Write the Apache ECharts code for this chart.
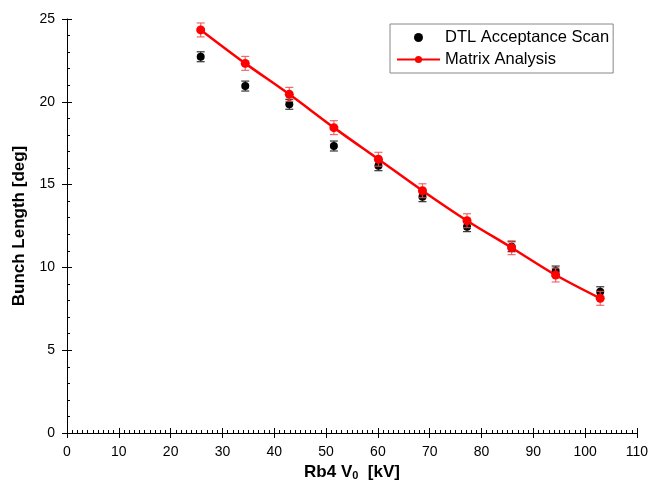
<!DOCTYPE html>
<html>
<head>
<meta charset="utf-8">
<script src="https://cdn.jsdelivr.net/npm/echarts@6/dist/echarts.min.js"></script>
<style>html,body{margin:0;padding:0;background:#fff}#c{width:650px;height:484px}</style>
</head>
<body>
<div id="c"></div>
<script>
const xValues = [25.8, 34.4, 42.9, 51.5, 60.1, 68.6, 77.2, 85.8, 94.3, 102.9];
const dtlValues = [22.72, 20.95, 19.85, 17.33, 16.14, 14.27, 12.46, 11.25, 9.78, 8.53];
const dtlErrors = [0.3, 0.3, 0.3, 0.3, 0.3, 0.3, 0.3, 0.3, 0.3, 0.3];
const matrixValues = [24.34, 22.32, 20.45, 18.44, 16.53, 14.63, 12.82, 11.19, 9.54, 8.13];
const matrixErrors = [0.42, 0.42, 0.42, 0.42, 0.42, 0.42, 0.42, 0.42, 0.42, 0.42];
const xTicks = [0, 10, 20, 30, 40, 50, 60, 70, 80, 90, 100, 110];
const yTicks = [0, 5, 10, 15, 20, 25];

const FONT = '"Liberation Sans", Arial, sans-serif';
const chart = echarts.init(document.getElementById('c'));

function errData(vals, errs) {
  return xValues.map((x, i) => [x, vals[i] - errs[i], vals[i] + errs[i]]);
}
function errRender(color, width) {
  return function (params, api) {
    const x = api.value(0);
    const p1 = api.coord([x, api.value(1)]);
    const p2 = api.coord([x, api.value(2)]);
    const w = 4;
    const st = { stroke: color, lineWidth: width };
    return {
      type: 'group',
      children: [
        { type: 'line', shape: { x1: p1[0], y1: p1[1], x2: p2[0], y2: p2[1] }, style: st },
        { type: 'line', shape: { x1: p1[0] - w, y1: p1[1], x2: p1[0] + w, y2: p1[1] }, style: st },
        { type: 'line', shape: { x1: p2[0] - w, y1: p2[1], x2: p2[0] + w, y2: p2[1] }, style: st }
      ]
    };
  };
}

const axisLabelStyle = { fontFamily: FONT, fontSize: 14, color: '#000' };

const option = {
  animation: false,
  backgroundColor: '#fff',
  grid: { left: 67, right: 13, top: 19, bottom: 51, outerBoundsMode: 'none', containLabel: false },
  legend: {
    orient: 'vertical',
    left: 390,
    top: 24,
    itemWidth: 43,
    itemHeight: 9,
    itemGap: 5,
    padding: [5, 4, 5, 6],
    borderColor: '#888',
    borderWidth: 1,
    textStyle: { fontFamily: FONT, fontSize: 16.5, color: '#000' },
    data: ['DTL Acceptance Scan', 'Matrix Analysis']
  },
  xAxis: [{
    type: 'value', min: 0, max: 110, interval: 10,
    name: '{b|Rb4 V}{s|0}{b|  [kV]}',
    nameLocation: 'middle', nameGap: 23,
    nameTextStyle: {
      rich: {
        b: { fontFamily: FONT, fontSize: 17, fontWeight: 'bold', color: '#000' },
        s: { fontFamily: FONT, fontSize: 11, fontWeight: 'bold', color: '#000', verticalAlign: 'bottom', padding: [8, 0, 0, 0] }
      }
    },
    axisLine: { show: true, onZero: false, lineStyle: { color: '#000', width: 1 } },
    axisTick: { show: true, length: 5, inside: true, lineStyle: { color: '#000' } },
    minorTick: { show: true, splitNumber: 10, length: 3, lineStyle: { color: '#000' } },
    splitLine: { show: false },
    axisLabel: Object.assign({ margin: 12 }, axisLabelStyle)
  }, {
    type: 'value', min: 0, max: 110, interval: 10, position: 'bottom',
    axisLine: { show: false },
    axisTick: { show: true, inside: false, length: 5, lineStyle: { color: '#000' } },
    axisLabel: { show: false }, splitLine: { show: false }
  }],
  yAxis: [{
    type: 'value', min: 0, max: 25, interval: 5,
    name: 'Bunch Length [deg]',
    nameLocation: 'middle', nameGap: 39,
    nameTextStyle: { fontFamily: FONT, fontSize: 17, fontWeight: 'bold', color: '#000' },
    axisLine: { show: true, onZero: false, lineStyle: { color: '#000', width: 1 } },
    axisTick: { show: true, length: 5, inside: true, lineStyle: { color: '#000' } },
    minorTick: { show: true, splitNumber: 5, length: 3, lineStyle: { color: '#000' } },
    splitLine: { show: false },
    axisLabel: Object.assign({ margin: 12 }, axisLabelStyle)
  }, {
    type: 'value', min: 0, max: 25, interval: 5, position: 'left',
    axisLine: { show: false },
    axisTick: { show: true, inside: false, length: 5, lineStyle: { color: '#000' } },
    axisLabel: { show: false }, splitLine: { show: false }
  }],
  series: [
    {
      name: 'DTL Acceptance Scan', type: 'scatter', z: 4,
      symbol: 'circle', symbolSize: 8,
      itemStyle: { color: '#000', opacity: 1 },
      data: xValues.map((x, i) => [x, dtlValues[i]])
    },
    {
      name: 'Matrix Analysis', type: 'line', z: 6,
      smooth: 0.3,
      symbol: 'circle', symbolSize: 9,
      lineStyle: { color: '#ff0000', width: 2.5 },
      itemStyle: { color: '#ff0000', opacity: 1 },
      data: xValues.map((x, i) => [x, matrixValues[i]])
    },
    {
      name: 'dtlErr', type: 'custom', z: 3,
      renderItem: errRender('#333', 1.2),
      data: errData(dtlValues, dtlErrors), tooltip: { show: false }
    },
    {
      name: 'matrixErr', type: 'custom', z: 5,
      renderItem: errRender('rgba(240,80,80,0.85)', 1.2),
      data: errData(matrixValues, matrixErrors)
    }
  ]
};
chart.setOption(option);
</script>
</body>
</html>
